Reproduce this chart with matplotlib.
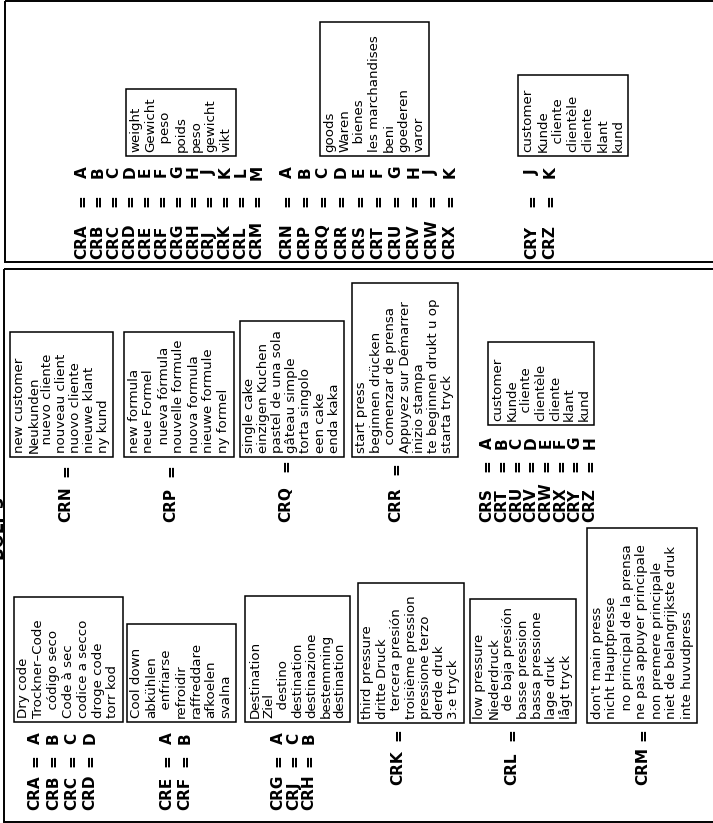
import matplotlib
matplotlib.use("Agg")
import matplotlib.pyplot as plt
from matplotlib.patches import Rectangle

# code tables (page is printed sideways, everything reads bottom to top)
codes_top_a = ["CRA", "CRB", "CRC", "CRD", "CRE", "CRF", "CRG", "CRH", "CRJ", "CRK", "CRL", "CRM"]
letters_top_a = ["A", "B", "C", "D", "E", "F", "G", "H", "J", "K", "L", "M"]
codes_top_b = ["CRN", "CRP", "CRQ", "CRR", "CRS", "CRT", "CRU", "CRV", "CRW", "CRX"]
letters_top_b = ["A", "B", "C", "D", "E", "F", "G", "H", "J", "K"]
codes_top_c = ["CRY", "CRZ"]
letters_top_c = ["J", "K"]
codes_mid = ["CRS", "CRT", "CRU", "CRV", "CRW", "CRX", "CRY", "CRZ"]
letters_mid = ["A", "B", "C", "D", "E", "F", "G", "H"]
codes_low_a = ["CRA", "CRB", "CRC", "CRD"]
letters_low_a = ["A", "B", "C", "D"]
codes_low_b = ["CRE", "CRF"]
letters_low_b = ["A", "B"]
codes_low_c = ["CRG", "CRJ", "CRH"]
letters_low_c = ["A", "C", "B"]
single_codes_row1 = ["CRN", "CRP", "CRQ", "CRR"]
single_codes_row2 = ["CRK", "CRL", "CRM"]

# translations: en, de, es, fr, it, nl, sv
weight = ["weight", "Gewicht", "  peso", "poids", "peso", "gewicht", "vikt"]
goods = ["goods", "Waren", "  bienes", "les marchandises", "beni", "goederen", "varor"]
customer = ["customer", "Kunde", "  cliente", "clientèle", "cliente", "klant", "kund"]
new_customer = ["new customer", "Neukunden", "  nuevo cliente", "nouveau client",
                "nuovo cliente", "nieuwe klant", "ny kund"]
new_formula = ["new formula", "neue Formel", "  nueva fórmula", "nouvelle formule",
               "nuova formula", "nieuwe formule", "ny formel"]
single_cake = ["single cake", "einzigen Kuchen", "pastel de una sola", "gâteau simple",
               "torta singolo", "een cake", "enda kaka"]
start_press = ["start press", "beginnen drücken", "  comenzar de prensa", "Appuyez sur Démarrer",
               "inizio stampa", "te beginnen drukt u op", "starta tryck"]
dry_code = ["Dry code", "Trockner–Code", "  código seco", "Code à sec",
            "codice a secco", "droge code", "torr kod"]
cool_down = ["Cool down", "abkühlen", "  enfriarse", "refroidir", "raffreddare", "afkoelen", "svalna"]
destination = ["Destination", "Ziel", "  destino", "destination", "destinazione",
               "bestemming", "destination"]
third_pressure = ["third pressure", "dritte Druck", "  tercera presión", "troisième pression",
                  "pressione terzo", "derde druk", "3:e tryck"]
low_pressure = ["low pressure", "Niederdruck", "  de baja presión", "basse pression",
                "bassa pressione", "lage druk", "lågt tryck"]
dont_main_press = ["don't main press", "nicht Hauptpresse", "  no principal de la prensa",
                   "ne pas appuyer principale", "non premere principale",
                   "niet de belangrijkste druk", "inte huvudpress"]

CODE_FS = 11
BOX_FS = 9.6


def code_group(ax, codes, letters, x0, pitch, y_code, y_eq, y_let):
    for i, (c, l) in enumerate(zip(codes, letters)):
        x = x0 + i * pitch
        ax.text(x, y_code, c, rotation=90, ha="center", va="bottom",
                fontsize=CODE_FS, fontweight="bold")
        ax.text(x, y_eq, "=", rotation=90, ha="center", va="center",
                fontsize=CODE_FS, fontweight="bold")
        ax.text(x, y_let, l, rotation=90, ha="center", va="center",
                fontsize=CODE_FS, fontweight="bold")


def single_code(ax, code, x, y_code, y_eq):
    ax.text(x, y_code, code, rotation=90, ha="center", va="bottom",
            fontsize=CODE_FS, fontweight="bold")
    ax.text(x, y_eq, "=", rotation=90, ha="center", va="center",
            fontsize=CODE_FS, fontweight="bold")


def word_box(ax, lines, x0, y0, x1, y1):
    ax.add_patch(Rectangle((x0, y0), x1 - x0, y1 - y0, fill=False,
                           ec="black", lw=1.1))
    cx = (x0 + x1) / 2
    pitch = (x1 - x0 - 20) / 6
    for i, s in enumerate(lines):
        ax.text(cx + (i - 3) * pitch, y1 - 4, s, rotation=90, ha="center",
                va="bottom", fontsize=BOX_FS)


def main():
    fig = plt.figure(figsize=(7.13, 8.23), dpi=100)
    ax = fig.add_axes([0, 0, 1, 1])
    ax.set_xlim(0, 713)
    ax.set_ylim(823, 0)
    ax.axis("off")

    # two page frames, running off the right edge
    ax.add_patch(Rectangle((5, 1), 800, 261, fill=False, ec="black", lw=1.4))
    ax.add_patch(Rectangle((4, 269), 800, 553, fill=False, ec="black", lw=1.4))

    # title at the left edge, mostly off the page as in the scan
    ax.text(-1, 528, "BOLT 3", rotation=90, ha="center", va="center",
            fontsize=12, fontweight="bold")

    # upper frame
    code_group(ax, codes_top_a, letters_top_a, 82, 15.9, 259, 201, 172)
    code_group(ax, codes_top_b, letters_top_b, 287, 18.1, 259, 201, 172)
    code_group(ax, codes_top_c, letters_top_c, 532, 18, 259, 201, 172)
    word_box(ax, weight, 126, 89, 236, 156)
    word_box(ax, goods, 320, 22, 429, 156)
    word_box(ax, customer, 518, 75, 628, 156)

    # lower frame, first row
    for code, x, yeq in zip(single_codes_row1, [66, 171, 286, 396], [471, 471, 466, 469]):
        single_code(ax, code, x, 522, yeq)
    word_box(ax, new_customer, 10, 332, 113, 457)
    word_box(ax, new_formula, 124, 332, 234, 457)
    word_box(ax, single_cake, 240, 321, 344, 457)
    word_box(ax, start_press, 352, 283, 458, 457)
    code_group(ax, codes_mid, letters_mid, 487, 14.7, 522, 466, 443)
    word_box(ax, customer, 488, 342, 594, 425)

    # lower frame, second row
    code_group(ax, codes_low_a, letters_low_a, 35, 18.3, 810, 761, 738)
    code_group(ax, codes_low_b, letters_low_b, 167, 18, 810, 761, 738)
    code_group(ax, codes_low_c, letters_low_c, 278, 15.5, 810, 761, 738)
    for code, x in zip(single_codes_row2, [398, 512, 643]):
        single_code(ax, code, x, 785, 735)
    word_box(ax, dry_code, 14, 597, 123, 722)
    word_box(ax, cool_down, 127, 624, 236, 722)
    word_box(ax, destination, 245, 596, 350, 722)
    word_box(ax, third_pressure, 358, 583, 464, 723)
    word_box(ax, low_pressure, 470, 599, 576, 723)
    word_box(ax, dont_main_press, 587, 528, 697, 723)

    fig.savefig("out.png", dpi=100)


if __name__ == "__main__":
    main()
